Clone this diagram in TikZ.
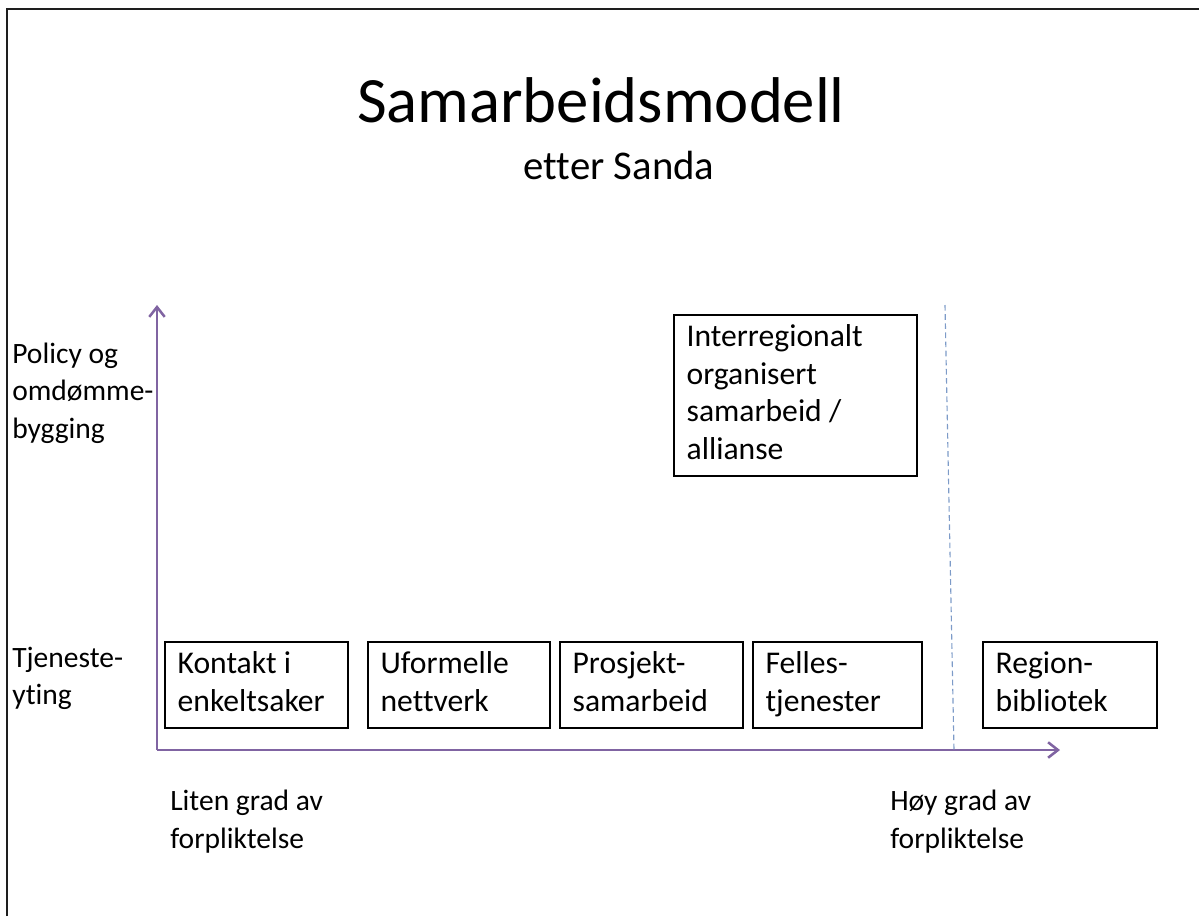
\documentclass[tikz,border=0pt]{standalone}
\usepackage{fontspec}
\setmainfont{Carlito}[Ligatures=NoCommon]
\usetikzlibrary{positioning, arrows.meta}
\definecolor{AxisPurple}{RGB}{128,100,162}
\definecolor{DashBlue}{RGB}{125,155,200}
\definecolor{FrameGray}{RGB}{30,30,30}

\begin{document}
\begin{tikzpicture}[x=0.025cm, y=-0.025cm,
      bodytext/.style={font=\fontsize{21}{26.6}\selectfont, align=flush left},
      lbl/.style={bodytext, inner sep=0pt, anchor=west, text width=5cm},
      nbox/.style={bodytext, font=\fontsize{22.5}{26.6}\selectfont,
                   draw=black, line width=0.9pt, rectangle,
                   minimum height=2.15cm, inner xsep=9pt, inner ysep=0pt,
                   execute at begin node=\strut, execute at end node=\strut},
      axis/.style={draw=AxisPurple, line width=2pt,
                   -{Straight Barb[length=7pt, width=11pt, line width=1.8pt]}}
    ]
    \useasboundingbox (0,0) rectangle (1199,916);
    \draw[FrameGray, line width=1pt] (7,916) -- (7,9) -- (1199,9);

    % title
    \node[font=\fontsize{46}{50}\selectfont] (title) at (601,100) {Samarbeidsmodell};
    \node[font=\fontsize{29}{33}\selectfont] (subtitle) at (619,165) {etter Sanda};

    % axes
    \coordinate (origo) at (157,750);
    \coordinate (ytop)  at (157,305);
    \coordinate (xend)  at (1060,750);
    \draw[axis] (origo) -- (ytop);
    \draw[axis] (origo) -- (xend);

    \coordinate (dtop) at (945,305);
    \coordinate (dbot) at (954,750);
    \draw[DashBlue, line width=0.8pt, dash pattern=on 4pt off 2.5pt] (dtop) -- (dbot);

    % lower row
    \foreach \name/\x/\w/\txt in {
        kontakt/256.5/4.575/{Kontakt i\\enkeltsaker},
        uformell/459/4.55/{Uformelle\\nettverk},
        prosjekt/651.5/4.575/{Prosjekt-\\samarbeid},
        felles/837.5/4.225/{Felles-\\tjenester},
        region/1070/4.35/{Region-\\bibliotek}}{
      \node[nbox, minimum width=\w cm, text width=\w cm-18pt] (\name) at (\x,685) {\txt};
    }

    \node[nbox, minimum width=6.075cm, minimum height=4.025cm, text width=6.075cm-18pt]
          (inter) at (795.5,395.5)
          {Interregionalt\\organisert\\samarbeid /\\allianse};

    % axis labels
    \node[lbl] (policy)  at (12,393)   {Policy og\\omdømme-\\bygging};
    \node[lbl] (tjeneste) at (12,678.5) {Tjeneste-\\yting};
    \node[lbl] (liten)   at (170,821.5) {Liten grad av\\forpliktelse};
    \node[lbl] (hoy)     at (890,821.5) {Høy grad av\\forpliktelse};
  \end{tikzpicture}
\end{document}
